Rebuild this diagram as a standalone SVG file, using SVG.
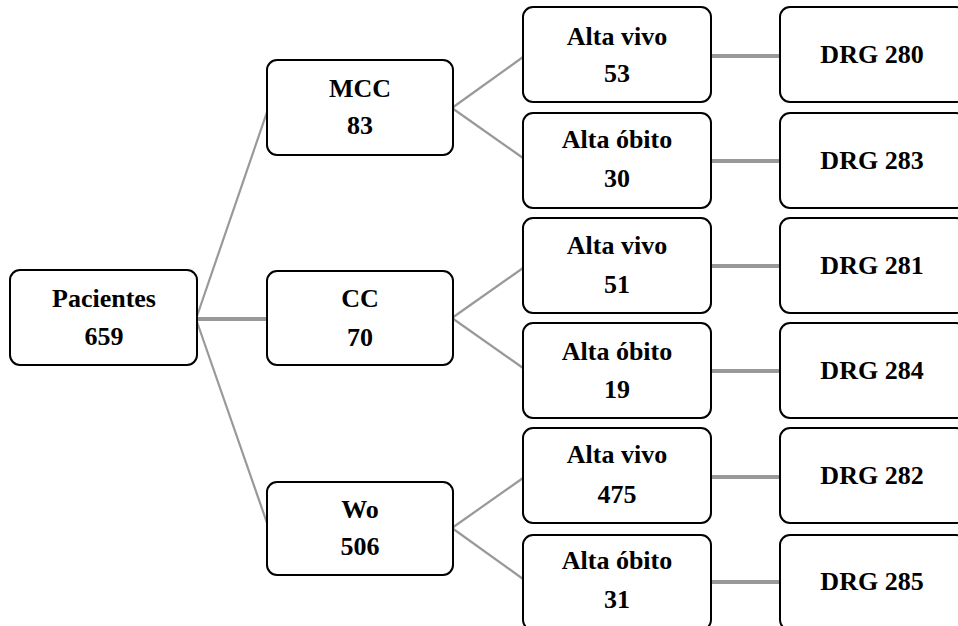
<svg xmlns="http://www.w3.org/2000/svg" width="958" height="626" viewBox="0 0 958 626">
  <style>
    .box { fill: #ffffff; stroke: #000000; stroke-width: 2; }
    .lbl { font-family: "Liberation Serif", "Times New Roman", serif; font-weight: bold; font-size: 26px; text-anchor: middle; fill: #000000; }
    .thin { stroke: #999999; stroke-width: 2.2; fill: none; }
    .thick { stroke: #999999; stroke-width: 4; fill: none; }
  </style>
  <rect width="958" height="626" fill="#ffffff"/>

  <!-- connectors -->
  <g id="connectors">
    <line class="thin" x1="196" y1="319" x2="267" y2="112"/>
    <line class="thick" x1="196" y1="319" x2="267" y2="319"/>
    <line class="thin" x1="196" y1="319" x2="267" y2="523"/>

    <line class="thin" x1="452" y1="108" x2="523" y2="57"/>
    <line class="thin" x1="452" y1="108" x2="523" y2="158"/>
    <line class="thin" x1="452" y1="318" x2="523" y2="268"/>
    <line class="thin" x1="452" y1="318" x2="523" y2="368"/>
    <line class="thin" x1="452" y1="528" x2="523" y2="478"/>
    <line class="thin" x1="452" y1="528" x2="523" y2="579"/>

    <line class="thick" x1="711" y1="56" x2="780" y2="56"/>
    <line class="thick" x1="711" y1="161" x2="780" y2="161"/>
    <line class="thick" x1="711" y1="266" x2="780" y2="266"/>
    <line class="thick" x1="711" y1="371" x2="780" y2="371"/>
    <line class="thick" x1="711" y1="477" x2="780" y2="477"/>
    <line class="thick" x1="711" y1="582" x2="780" y2="582"/>
  </g>

  <!-- root -->
  <g id="pacientes">
    <rect class="box" x="10" y="270" width="187" height="95" rx="10"/>
    <text class="lbl" x="104" y="307">Pacientes</text>
    <text class="lbl" x="104" y="345">659</text>
  </g>

  <!-- level 1 -->
  <g id="mcc">
    <rect class="box" x="267" y="60" width="186" height="95" rx="10"/>
    <text class="lbl" x="360" y="97">MCC</text>
    <text class="lbl" x="360" y="134">83</text>
  </g>
  <g id="cc">
    <rect class="box" x="267" y="271" width="186" height="94" rx="10"/>
    <text class="lbl" x="360" y="307">CC</text>
    <text class="lbl" x="360" y="346">70</text>
  </g>
  <g id="wo">
    <rect class="box" x="267" y="482" width="186" height="93" rx="10"/>
    <text class="lbl" x="360" y="518">Wo</text>
    <text class="lbl" x="360" y="555">506</text>
  </g>

  <!-- level 2 -->
  <g id="mcc-vivo">
    <rect class="box" x="523" y="7" width="188" height="95" rx="10"/>
    <text class="lbl" x="617" y="45">Alta vivo</text>
    <text class="lbl" x="617" y="82">53</text>
  </g>
  <g id="mcc-obito">
    <rect class="box" x="523" y="113" width="188" height="95" rx="10"/>
    <text class="lbl" x="617" y="148">Alta óbito</text>
    <text class="lbl" x="617" y="187">30</text>
  </g>
  <g id="cc-vivo">
    <rect class="box" x="523" y="218" width="188" height="95" rx="10"/>
    <text class="lbl" x="617" y="254">Alta vivo</text>
    <text class="lbl" x="617" y="293">51</text>
  </g>
  <g id="cc-obito">
    <rect class="box" x="523" y="323" width="188" height="95" rx="10"/>
    <text class="lbl" x="617" y="360">Alta óbito</text>
    <text class="lbl" x="617" y="398">19</text>
  </g>
  <g id="wo-vivo">
    <rect class="box" x="523" y="428" width="188" height="95" rx="10"/>
    <text class="lbl" x="617" y="463">Alta vivo</text>
    <text class="lbl" x="617" y="503">475</text>
  </g>
  <g id="wo-obito">
    <rect class="box" x="523" y="535" width="188" height="95" rx="10"/>
    <text class="lbl" x="617" y="569">Alta óbito</text>
    <text class="lbl" x="617" y="608">31</text>
  </g>

  <!-- level 3 -->
  <g id="drg280">
    <rect class="box" x="780" y="7" width="186" height="95" rx="10"/>
    <text class="lbl" x="872" y="63">DRG 280</text>
  </g>
  <g id="drg283">
    <rect class="box" x="780" y="113" width="186" height="95" rx="10"/>
    <text class="lbl" x="872" y="169">DRG 283</text>
  </g>
  <g id="drg281">
    <rect class="box" x="780" y="218" width="186" height="95" rx="10"/>
    <text class="lbl" x="872" y="274">DRG 281</text>
  </g>
  <g id="drg284">
    <rect class="box" x="780" y="323" width="186" height="95" rx="10"/>
    <text class="lbl" x="872" y="379">DRG 284</text>
  </g>
  <g id="drg282">
    <rect class="box" x="780" y="428" width="186" height="95" rx="10"/>
    <text class="lbl" x="872" y="484">DRG 282</text>
  </g>
  <g id="drg285">
    <rect class="box" x="780" y="535" width="186" height="95" rx="10"/>
    <text class="lbl" x="872" y="590">DRG 285</text>
  </g>
</svg>
